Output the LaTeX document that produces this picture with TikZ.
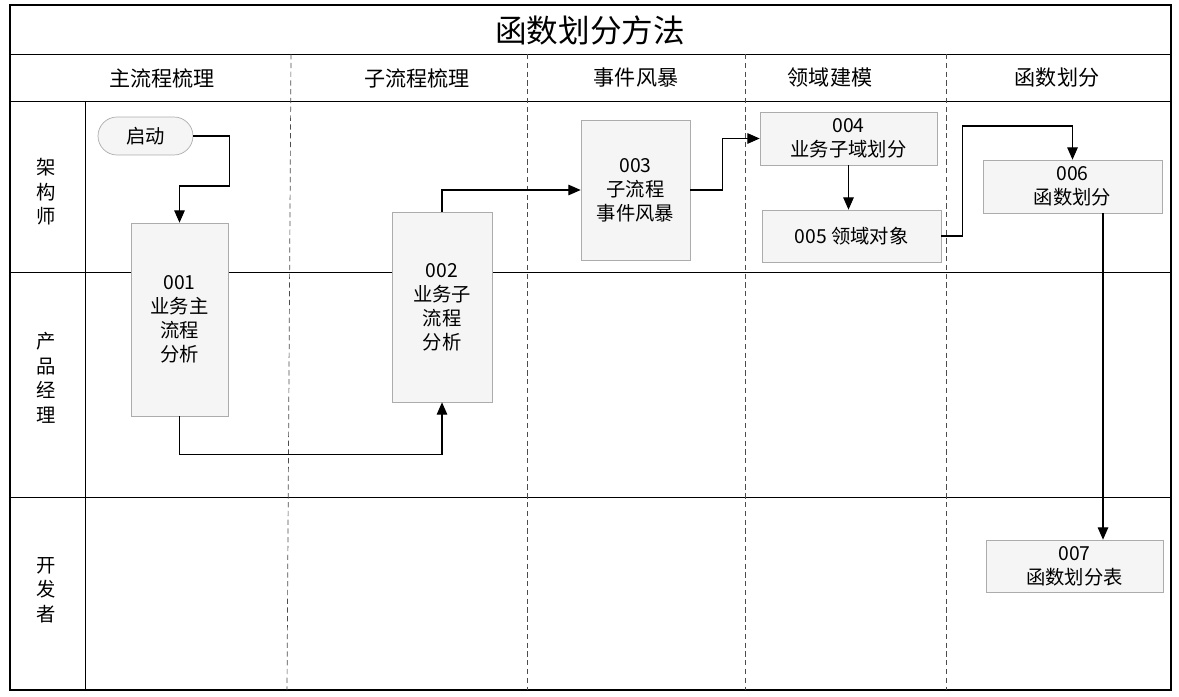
\documentclass[tikz,border=0pt]{standalone}
\usepackage{fontspec}
\setmainfont{Noto Sans CJK SC}
\usetikzlibrary{arrows.meta}
\tikzset{
  stepbox/.style={draw=gray!65,fill=gray!8,align=center,inner sep=0pt,
    font=\fontsize{11}{13.6}\selectfont},
  lanelabel/.style={align=center,font=\fontsize{11}{14}\selectfont},
  colhead/.style={font=\fontsize{12}{14}\selectfont},
  colsep/.style={dash pattern=on 3pt off 2pt,black!70},
  flow/.style={-{Triangle[length=7pt,width=6pt]},line width=0.6pt},
}
\begin{document}
\begin{tikzpicture}[x=0.02cm,y=-0.02cm]
  \useasboundingbox(0,0)rectangle(1179,696);
  % rahmen
  \draw[line width=0.8pt](10,5)rectangle(1171,690);
  \draw(10,54)--(1171,54);
  \draw(10,101)--(1171,101);
  \draw(85,101)--(85,690);
  \draw(10,272)--(1171,272);
  \draw(10,497)--(1171,497);
  % spalten
  \draw[colsep](291,54)--(287,690);
  \draw[colsep](527,54)--(527,690);
  \draw[colsep](745,54)--(745,690);
  \draw[colsep](946,54)--(946,690);
  % titel und kopf
  \node(title) at (590,30) {\fontsize{18}{20}\selectfont 函数划分方法};
  \node[colhead](h1) at (162,78) {主流程梳理};
  \node[colhead](h2) at (417,78) {子流程梳理};
  \node[colhead](h3) at (636,78) {事件风暴};
  \node[colhead](h4) at (830,78) {领域建模};
  \node[colhead](h5) at (1057,78) {函数划分};
  % rollen
  \node[lanelabel](r1) at (46,192) {架\\构\\师};
  \node[lanelabel](r2) at (46,378) {产\\品\\经\\理};
  \node[lanelabel](r3) at (46,590) {开\\发\\者};
  % schritte
  \node[stepbox,rounded corners=0.38cm,minimum width=1.9cm,minimum height=0.76cm](start) at (145.5,136) {启动};
  \node[stepbox,minimum width=1.94cm,minimum height=3.86cm](s001) at (179.5,319.5) {001\\业务主\\流程\\分析};
  \node[stepbox,minimum width=2cm,minimum height=3.8cm](s002) at (442,307) {002\\业务子\\流程\\分析};
  \node[stepbox,minimum width=2.18cm,minimum height=2.8cm](s003) at (635.5,190) {003\\子流程\\事件风暴};
  \node[stepbox,minimum width=3.54cm,minimum height=1.06cm](s004) at (848.5,138.5) {004\\业务子域划分};
  \node[stepbox,minimum width=3.58cm,minimum height=1.04cm](s005) at (851.5,236) {005 领域对象};
  \node[stepbox,minimum width=3.58cm,minimum height=1.06cm](s006) at (1072.5,186.5) {006\\函数划分};
  \node[stepbox,minimum width=3.54cm,minimum height=1.04cm](s007) at (1074.5,566) {007\\函数划分表};
  % pfeile
  \draw[flow](start.east)--++(36,0)--++(0,50)-|(s001.north);
  \draw[flow](s001.south)--++(0,38)-|(s002.south);
  \draw[flow](s002.north)|-(s003.west);
  \draw[flow](s003.east)--++(32,0)|-(s004.west);
  \draw[flow](s004.south)--(s004.south|-s005.north);
  \draw[flow](s005.east)--++(21,0)--++(0,-110)-|(s006.north);
  \draw[flow]([xshift=0.61cm]s006.south)--([xshift=0.61cm]s006.south|-s007.north);
\end{tikzpicture}
\end{document}
